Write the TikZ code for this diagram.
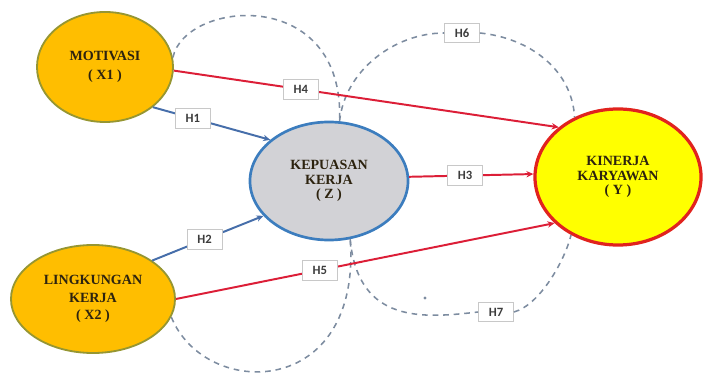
\documentclass[tikz,border=0pt]{standalone}
\usepackage{fontspec}
\setmainfont{Liberation Serif}
\setsansfont{Carlito}
\usepackage{xcolor}
\usepackage{tikz}
\usetikzlibrary{arrows.meta,shapes.geometric}

\definecolor{xorange}{RGB}{255,190,0}
\definecolor{xborder}{RGB}{150,150,50}
\definecolor{zgrey}{RGB}{210,210,214}
\definecolor{zblue}{RGB}{60,125,190}
\definecolor{yyellow}{RGB}{255,255,0}
\definecolor{yred}{RGB}{225,35,30}
\definecolor{arrred}{RGB}{220,30,55}
\definecolor{arrblue}{RGB}{70,110,170}
\definecolor{dashgrey}{RGB}{125,140,160}
\definecolor{boxgrey}{RGB}{200,200,200}
\definecolor{hgrey}{RGB}{60,60,60}
\definecolor{txtdark}{RGB}{45,35,15}

\begin{document}
\begin{tikzpicture}[x=0.025cm,y=-0.025cm,>=Stealth,
  varnode/.style={ellipse,inner sep=0pt,align=center,text=txtdark,
    font=\bfseries\fontsize{10}{10.5}\selectfont},
  xnode/.style={varnode,fill=xorange,draw=xborder,line width=1.3pt},
  znode/.style={varnode,fill=zgrey,draw=zblue,line width=1.9pt},
  ynode/.style={varnode,fill=yyellow,draw=yred,line width=2.3pt},
  hbox/.style={draw=boxgrey,fill=white,text=hgrey,line width=0.5pt,
    font=\sffamily\bfseries\fontsize{9}{9}\selectfont,
    minimum width=25pt,minimum height=14pt,inner sep=1pt},
  redarr/.style={draw=arrred,line width=1.4pt,-{Stealth[length=5pt,width=4.5pt]}},
  bluearr/.style={draw=arrblue,line width=1.4pt,-{Stealth[length=5pt,width=4.5pt]}},
  dashlink/.style={draw=dashgrey,line width=1.1pt,dash pattern=on 4pt off 3.5pt}]
\useasboundingbox (0,0) rectangle (703,373);

% variabel
\node[xnode,minimum width=3.4cm,minimum height=2.75cm](mot) at (105,67){MOTIVASI\\[3pt]( X1 )};
\node[xnode,minimum width=4.1cm,minimum height=2.7cm](lin) at (93,299){LINGKUNGAN\\[2pt]KERJA\\[2pt]( X2 )};
\node[znode,minimum width=3.95cm,minimum height=2.95cm](kep) at (329,181){KEPUASAN\\KERJA\\( Z )};
\node[ynode,minimum width=4.15cm,minimum height=3.4cm](kin) at (618,177){KINERJA\\KARYAWAN\\( Y )};

% mediasi
\node[hbox](h6) at (462,33){H6};
\node[hbox](h7) at (496,312){H7};
\draw[dashlink](mot.8) .. controls (185,0) and (345,-15) .. (kep.80);
\draw[dashlink](kep.80) .. controls (345,70) and (395,33) .. (h6.west);
\draw[dashlink](h6.east) .. controls (530,38) and (572,70) .. (kin.126);
\draw[dashlink](lin.347) .. controls (205,400) and (362,400) .. (kep.290);
\draw[dashlink](kep.290) .. controls (358,325) and (425,318) .. (h7.west);
\draw[dashlink](h7.east) .. controls (540,305) and (565,260) .. (kin.231);
\fill[dashgrey](425,298) circle[radius=1.2pt];

% pengaruh langsung
\draw[bluearr](mot.320)--node[hbox,pos=0.34](h1){H1}(kep.145);
\draw[bluearr](lin.33)--node[hbox,pos=0.47](h2){H2}(kep.208);
\draw[redarr](kep.3)--node[hbox,pos=0.45](h3){H3}(kin.178);
\draw[redarr](mot.357)--node[hbox,pos=0.33](h4){H4}(kin.140);
\draw[redarr](lin.0)--node[hbox,pos=0.38](h5){H5}(kin.216);
\end{tikzpicture}
\end{document}
